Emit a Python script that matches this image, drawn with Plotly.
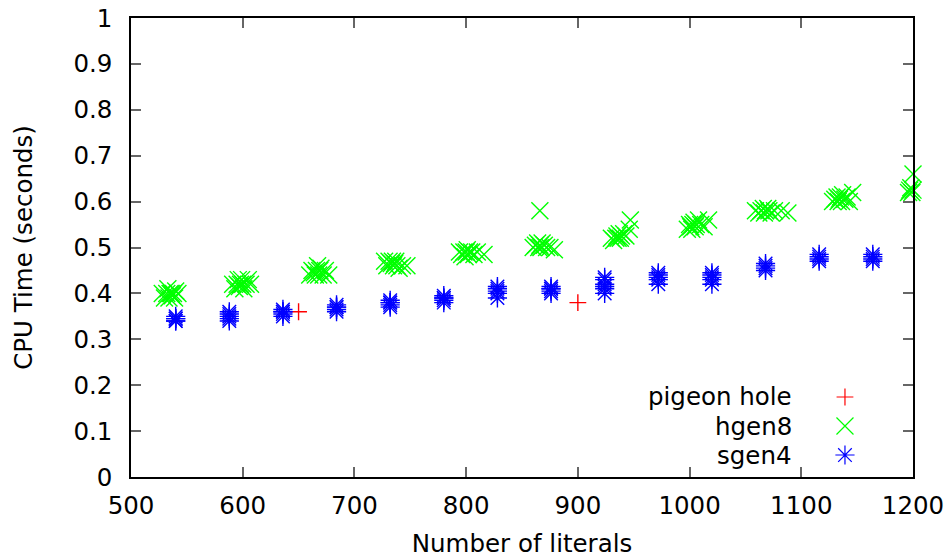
import plotly.graph_objects as go

# CPU time (seconds) against number of literals for three benchmark families.
pigeon_literals = [650, 900]
pigeon_cpu = [0.36, 0.38]

hgen8_literals = [
    528, 530, 532, 533, 534, 535, 536, 537, 538, 539, 540, 542,
    591, 593, 595, 596, 597, 598, 599, 600, 601, 603, 605, 607,
    660, 662, 664, 665, 666, 667, 668, 669, 670, 672, 674, 677,
    727, 729, 731, 733, 734, 735, 736, 737, 738, 740, 743, 747,
    794, 796, 798, 799, 800, 801, 802, 803, 805, 807, 810, 816,
    860, 862, 864, 865, 866, 867, 868, 870, 872, 875, 879, 866,
    930, 932, 934, 935, 936, 937, 938, 939, 941, 943, 946, 947,
    998, 1000, 1001, 1002, 1003, 1004, 1005, 1006, 1008, 1010, 1013, 1017,
    1059, 1062, 1064, 1066, 1067, 1068, 1070, 1071, 1073, 1076, 1082, 1088,
    1128, 1130, 1132, 1133, 1134, 1135, 1136, 1137, 1139, 1141, 1143, 1146,
    1196, 1197, 1198, 1199, 1200, 1200,
]
hgen8_cpu = [
    0.40, 0.39, 0.40, 0.41, 0.39, 0.40, 0.40, 0.395, 0.40, 0.39, 0.405, 0.40,
    0.42, 0.41, 0.42, 0.43, 0.415, 0.42, 0.43, 0.42, 0.41, 0.42, 0.43, 0.42,
    0.44, 0.45, 0.445, 0.44, 0.45, 0.46, 0.44, 0.45, 0.455, 0.44, 0.45, 0.44,
    0.47, 0.46, 0.47, 0.465, 0.47, 0.46, 0.465, 0.47, 0.46, 0.455, 0.46, 0.46,
    0.49, 0.485, 0.49, 0.48, 0.49, 0.495, 0.485, 0.49, 0.49, 0.485, 0.49, 0.485,
    0.50, 0.505, 0.51, 0.50, 0.505, 0.50, 0.51, 0.505, 0.50, 0.50, 0.495, 0.58,
    0.52, 0.515, 0.52, 0.525, 0.52, 0.53, 0.52, 0.525, 0.53, 0.525, 0.54, 0.56,
    0.54, 0.55, 0.545, 0.54, 0.55, 0.555, 0.545, 0.55, 0.56, 0.55, 0.545, 0.56,
    0.58, 0.575, 0.58, 0.585, 0.575, 0.58, 0.585, 0.58, 0.575, 0.58, 0.58, 0.575,
    0.60, 0.605, 0.61, 0.60, 0.605, 0.61, 0.60, 0.615, 0.605, 0.61, 0.60, 0.62,
    0.62, 0.625, 0.63, 0.62, 0.625, 0.66,
]

sgen4_literals = [
    540, 540, 540, 540, 540,
    588, 588, 588, 588, 588,
    636, 636, 636, 636, 636,
    684, 684, 684, 684, 684,
    732, 732, 732, 732, 732,
    780, 780, 780, 780, 780,
    828, 828, 828, 828, 828,
    876, 876, 876, 876, 876,
    924, 924, 924, 924, 924, 924,
    972, 972, 972, 972, 972,
    1020, 1020, 1020, 1020, 1020,
    1068, 1068, 1068, 1068,
    1116, 1116, 1116, 1116,
    1164, 1164, 1164, 1164,
]
sgen4_cpu = [
    0.34, 0.345, 0.35, 0.34, 0.345,
    0.34, 0.35, 0.36, 0.355, 0.345,
    0.35, 0.36, 0.365, 0.355, 0.36,
    0.36, 0.37, 0.375, 0.365, 0.37,
    0.37, 0.38, 0.385, 0.375, 0.38,
    0.38, 0.39, 0.395, 0.385, 0.39,
    0.39, 0.40, 0.41, 0.405, 0.415,
    0.40, 0.41, 0.415, 0.405, 0.41,
    0.40, 0.41, 0.42, 0.43, 0.415, 0.435,
    0.42, 0.43, 0.44, 0.435, 0.445,
    0.42, 0.43, 0.44, 0.435, 0.445,
    0.45, 0.46, 0.465, 0.455,
    0.47, 0.48, 0.485, 0.475,
    0.47, 0.48, 0.485, 0.475,
]

series_names = ["pigeon hole", "hgen8", "sgen4"]
x_ticks = [500, 600, 700, 800, 900, 1000, 1100, 1200]
y_ticks = [0, 0.1, 0.2, 0.3, 0.4, 0.5, 0.6, 0.7, 0.8, 0.9, 1]
y_tick_text = ["0", "0.1", "0.2", "0.3", "0.4", "0.5", "0.6", "0.7", "0.8", "0.9", "1"]

colors = ["#ff0000", "#00ff00", "#0000ff"]
symbols = ["cross-thin-open", "x-thin-open", "asterisk-open"]
sizes = [12, 17, 16]
FONT = "DejaVu Sans"
FS = 24.5

fig = go.Figure()
datasets = [
    (pigeon_literals, pigeon_cpu),
    (hgen8_literals, hgen8_cpu),
    (sgen4_literals, sgen4_cpu),
]
for (xs, ys), name, col, sym, sz in zip(datasets, series_names, colors, symbols, sizes):
    fig.add_trace(go.Scatter(
        x=xs, y=ys, mode="markers", name=name, showlegend=False,
        marker=dict(symbol=sym, size=sz, color=col, line=dict(color=col, width=1.4)),
        cliponaxis=False,
    ))

# Key: right-aligned labels with the symbol to the right, drawn on an overlay axis in [0, 1].
key_rows = [0.1743, 0.1111, 0.0479]
for name, col, sym, sz, ky in zip(series_names, colors, symbols, sizes, key_rows):
    fig.add_trace(go.Scatter(
        x=[0.913], y=[ky], mode="markers", showlegend=False, hoverinfo="skip",
        xaxis="x2", yaxis="y2",
        marker=dict(symbol=sym, size=sz, color=col, line=dict(color=col, width=1.2)),
    ))
    fig.add_annotation(
        x=0.846, y=ky, xref="paper", yref="paper", text=name, showarrow=False,
        xanchor="right", yanchor="middle", font=dict(family=FONT, size=FS, color="black"),
        borderpad=0,
    )

axis_common = dict(
    showline=True, linecolor="black", linewidth=1.5, mirror="ticks",
    ticks="inside", ticklen=10, tickwidth=1.5, tickcolor="#666666",
    showgrid=False, zeroline=False, automargin=False,
    tickfont=dict(family=FONT, size=FS, color="black"),
)

fig.update_layout(
    width=947, height=559,
    margin=dict(l=131, r=34, t=18, b=82),
    paper_bgcolor="white", plot_bgcolor="white",
    showlegend=False,
    xaxis=dict(
        range=[500, 1200], tickvals=x_ticks, ticktext=[str(v) for v in x_ticks],
        title=dict(text="Number of literals", font=dict(family=FONT, size=FS, color="black"), standoff=16),
        ticklabelstandoff=6,
        **axis_common,
    ),
    yaxis=dict(
        range=[0, 1], tickvals=y_ticks, ticktext=y_tick_text,
        title=dict(text="CPU Time (seconds)", font=dict(family=FONT, size=FS, color="black"), standoff=34),
        ticklabelstandoff=12,
        **axis_common,
    ),
    xaxis2=dict(range=[0, 1], overlaying="x", visible=False, domain=[0, 1]),
    yaxis2=dict(range=[0, 1], overlaying="y", visible=False),
)

fig.write_html("out.html")
